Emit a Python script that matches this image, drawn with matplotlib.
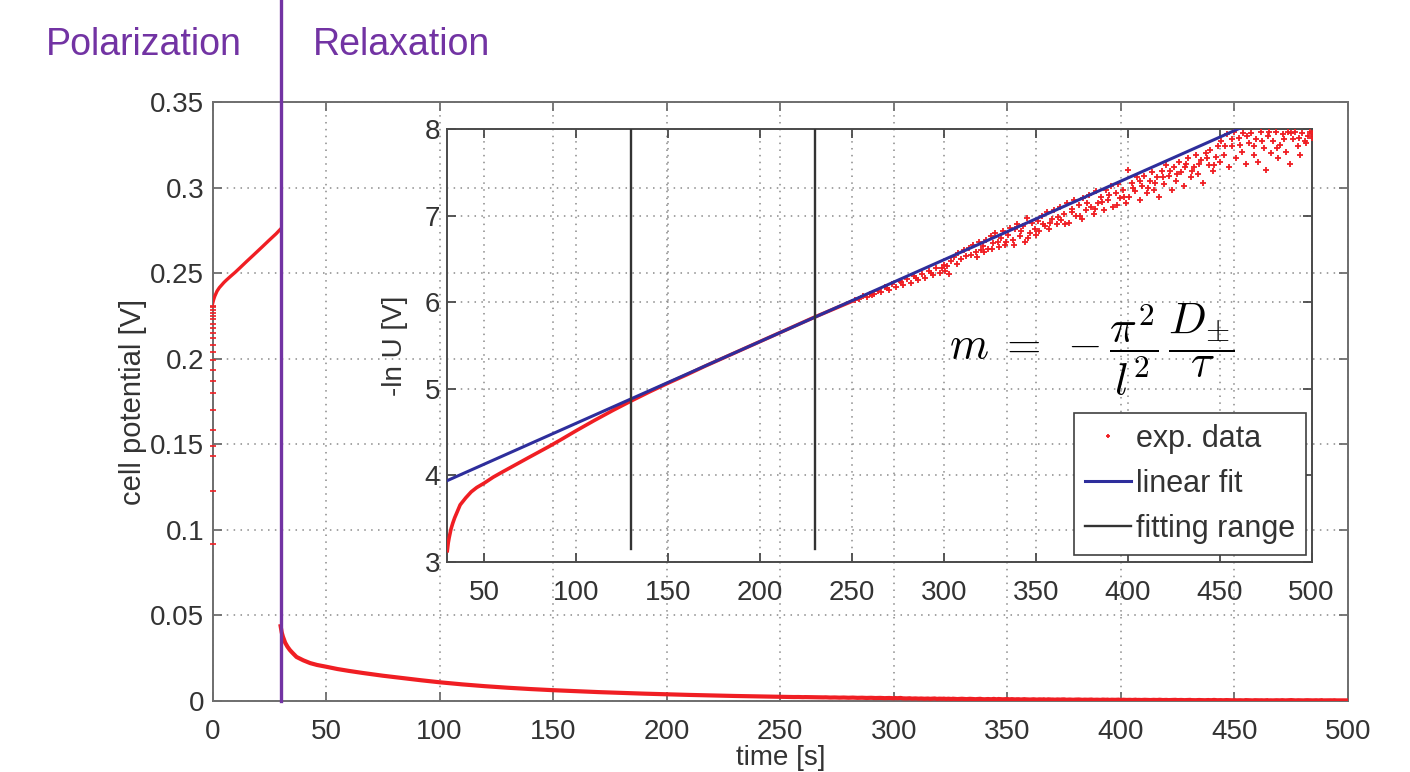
import numpy as np
import matplotlib
matplotlib.use('Agg')
import matplotlib.pyplot as plt
from matplotlib.ticker import FixedLocator, FixedFormatter

plt.rcParams['font.family'] = ['Liberation Sans', 'DejaVu Sans']
plt.rcParams['mathtext.fontset'] = 'cm'

# ---------------- data ----------------
switch_t = 30

pol_t = [0, 0.5, 1, 2, 3, 4, 5, 6, 8, 10, 12, 15, 18, 20, 22, 25, 28, 30]
pol_u = [0.232, 0.2345, 0.2365, 0.2395, 0.2415, 0.243, 0.2445, 0.2458, 0.2482,
         0.2505, 0.253, 0.2568, 0.2605, 0.263, 0.2655, 0.2693, 0.273, 0.2758]

ramp_u = [0.092, 0.1225, 0.143, 0.149, 0.1585, 0.170, 0.180, 0.187, 0.1936,
          0.199, 0.204, 0.208, 0.212, 0.215, 0.218, 0.2205, 0.223, 0.225,
          0.227, 0.2285, 0.23, 0.231]

# -ln U, smooth part of the relaxation
smooth_t = [30, 30.5, 31, 32, 33, 34, 35, 37, 40, 43, 46, 50, 55, 60, 66, 75,
            85, 92, 100, 110, 120, 130, 140, 150, 160, 170, 180, 190, 200,
            210, 220, 230, 240, 250]
smooth_v = [3.13, 3.22, 3.28, 3.38, 3.45, 3.51, 3.56, 3.66, 3.74, 3.81, 3.86,
            3.91, 3.98, 4.04, 4.11, 4.215, 4.33, 4.415, 4.515, 4.635, 4.75,
            4.86, 4.965, 5.065, 5.16, 5.26, 5.355, 5.45, 5.545, 5.64, 5.735,
            5.83, 5.92, 6.01]

# -ln U, noisy part of the relaxation
scatter_t = [252, 254, 256, 258, 260, 262, 264, 266, 268, 270, 272, 274, 276,
             278, 280, 282, 284, 286, 288, 290, 292, 294, 296, 298, 300,
             300.5, 301.5, 303, 304, 305.5, 307, 308, 309.5, 311, 312,
             313.5, 315, 316, 317.5, 319, 320, 321.5, 323, 324, 325.5,
             327, 328, 329.5, 331, 332, 333.5, 335, 336, 337.5, 339,
             340, 341.5, 343, 344, 345.5, 347, 348, 349.5,
             351, 352, 353.5, 355, 356, 357.5, 359, 360, 361.5, 363,
             364, 365.5, 367, 368, 369.5, 371, 372, 373.5, 375, 376,
             377.5, 379, 380, 381.5, 383, 384, 385.5, 387, 388, 389.5,
             391, 392, 393.5, 395, 396, 397.5, 399, 400,
             401, 402.5, 404, 405, 406.5, 408, 409, 410.5, 412, 413,
             414.5, 416, 417, 418.5, 420, 421, 422.5, 424, 425, 426.5,
             428, 429, 430.5, 432, 433, 434.5, 436, 437, 438.5, 440,
             441, 442.5, 444, 445, 446.5, 448, 449, 450,
             451, 452.5, 454, 455, 456.5, 458, 459, 460.5, 462, 463,
             464.5, 466, 467, 468.5, 470, 471, 472.5, 474, 475, 476.5,
             478, 479, 480.5, 482, 483, 484.5, 486, 487, 488.5, 490,
             491, 492.5, 494, 495, 496.5, 498, 499, 500,
             261, 269, 277, 285, 293, 299,
             318, 322, 326, 330, 334, 338, 342, 346, 350,
             354, 358, 362, 366, 370, 374, 378, 382, 386, 390, 394, 398,
             403, 407, 411, 415, 419, 423, 427, 431, 435, 439, 443, 447,
             453, 457, 461, 465, 469, 473, 477, 481, 485, 489, 493, 497, 500]
scatter_v = [6.03, 6.04, 6.07, 6.06, 6.10, 6.09, 6.13, 6.12, 6.17, 6.14, 6.21,
             6.18, 6.24, 6.20, 6.27, 6.22, 6.30, 6.26, 6.33, 6.28, 6.36, 6.31,
             6.40, 6.34, 6.43,
             6.36, 6.42, 6.33, 6.47, 6.52, 6.44, 6.57, 6.50, 6.60, 6.53,
             6.63, 6.55, 6.66, 6.58, 6.70, 6.60, 6.65, 6.72, 6.62, 6.76,
             6.68, 6.80, 6.70, 6.74, 6.82, 6.66, 6.78, 6.86, 6.72, 6.84,
             6.90, 6.76, 6.88, 6.70, 6.97, 6.80, 6.92, 6.85,
             6.94, 6.82, 7.00, 6.88, 7.04, 6.84, 6.96, 7.07, 6.90, 7.10,
             6.95, 7.02, 7.14, 6.92, 7.08, 7.18, 7.00, 7.12, 6.96, 7.20,
             7.06, 7.24, 7.10, 7.02, 7.28, 7.14, 7.22, 7.06, 7.30, 7.18,
             7.34, 7.10, 7.26, 7.36, 7.20, 7.30, 7.14, 7.53,
             7.22, 7.38, 7.28, 7.44, 7.18, 7.34, 7.46, 7.26, 7.40, 7.50,
             7.30, 7.44, 7.22, 7.52, 7.36, 7.58, 7.46, 7.30, 7.56, 7.40,
             7.62, 7.50, 7.34, 7.60, 7.66, 7.44, 7.56, 7.70, 7.48, 7.64,
             7.38, 7.72, 7.58, 7.76, 7.52, 7.68, 7.80, 7.62,
             7.86, 7.70, 7.94, 7.56, 7.80, 7.96, 7.66, 7.90, 7.74, 7.95,
             7.60, 7.84, 7.95, 7.70, 7.88, 7.62, 7.96, 7.78, 7.53, 7.92,
             7.72, 7.86, 7.96, 7.66, 7.82, 7.94, 7.74, 7.96, 7.60, 7.88,
             7.97, 7.80, 7.70, 7.95, 7.86, 7.92, 7.96, 7.90,
             6.08, 6.16, 6.23, 6.28, 6.34, 6.40,
             6.52, 6.58, 6.62, 6.64, 6.70, 6.66, 6.82, 6.74, 6.78,
             6.90, 6.92, 6.98, 6.90, 7.04, 7.00, 7.14, 7.08, 7.16, 7.24, 7.12, 7.22,
             7.32, 7.40, 7.32, 7.38, 7.44, 7.52, 7.48, 7.56, 7.52, 7.60, 7.66, 7.58,
             7.80, 7.88, 7.82, 7.92, 7.80, 7.86, 7.96, 7.78, 7.88, 7.95, 7.90, 7.84, 7.95]

fit_slope = 0.00944
fit_intercept = 3.657
fit_span = [30, 500]
fit_range = [130, 230]

main_xticks = [0, 50, 100, 150, 200, 250, 300, 350, 400, 450, 500]
main_yticks = [0, 0.05, 0.1, 0.15, 0.2, 0.25, 0.3, 0.35]
main_ylabels = ['0', '0.05', '0.1', '0.15', '0.2', '0.25', '0.3', '0.35']
inset_xticks = [50, 100, 150, 200, 250, 300, 350, 400, 450, 500]
inset_yticks = [3, 4, 5, 6, 7, 8]

# ---------------- style ----------------
W, H = 1410, 772
purple = '#7233A3'
red = '#F01E23'
blue = '#2E2E9C'
dark = '#333333'
grid_kw = dict(color='#8a8a8a', linestyle=(0, (1, 3.5)), linewidth=1.1)

fig = plt.figure(figsize=(W / 100, H / 100), dpi=100, facecolor='white')

def px_axes(l, r, t, b):
    return fig.add_axes([l / W, 1 - b / H, (r - l) / W, (b - t) / H])

def style(ax, spine_col):
    for s in ax.spines.values():
        s.set_color(spine_col)
        s.set_linewidth(1.4)
    ax.tick_params(direction='in', length=6.5, width=1.3, colors=spine_col,
                   top=True, right=True, labelsize=20, labelcolor=dark)
    ax.set_facecolor('none')
    ax.grid(True, **grid_kw)
    ax.set_axisbelow(True)

# ---------------- main axes ----------------
ax = px_axes(212.5, 1348, 102, 701)
style(ax, '#6e6e6e')
ax.tick_params(axis='x', pad=13)
ax.tick_params(axis='y', pad=6)
ax.set_xlim(0, 500)
ax.set_ylim(0, 0.35)
ax.xaxis.set_major_locator(FixedLocator(main_xticks))
ax.yaxis.set_major_locator(FixedLocator(main_yticks))
ax.yaxis.set_major_formatter(FixedFormatter(main_ylabels))

rel_t = np.array(smooth_t + scatter_t)
rel_v = np.array(smooth_v + scatter_v)
order = np.argsort(rel_t, kind='stable')
rel_t = rel_t[order]
rel_u = np.exp(-rel_v[order])
ax.plot(pol_t, pol_u, color=red, lw=2.4, zorder=3)
ax.plot(np.zeros(len(ramp_u)), ramp_u, linestyle='none', marker='_',
        ms=4, mew=1.2, color=red, zorder=3, clip_on=False)
ax.plot(rel_t, rel_u, color=red, lw=3.0, zorder=3)
ax.axvline(switch_t, ymin=0, ymax=1.25, clip_on=False, color=purple,
           lw=2.4, zorder=5)

ax.set_ylabel('cell potential [V]', fontsize=21, color=dark)
ax.yaxis.set_label_coords(-0.058, 0.5)
ax.set_xlabel('time [s]', fontsize=20, color=dark, va='bottom')
ax.xaxis.set_label_coords(0.5, -(771 - 701) / 599)

fig.text(143.5 / W, 1 - 55 / H, 'Polarization', color=purple, fontsize=27,
         ha='center', va='baseline')
fig.text(313 / W, 1 - 55 / H, 'Relaxation', color=purple, fontsize=27,
         ha='left', va='baseline')

# ---------------- inset ----------------
ax2 = px_axes(447.3, 1311.5, 129, 562)
style(ax2, '#4a4a4a')
ax2.tick_params(axis='x', pad=13)
ax2.tick_params(axis='y', pad=5)
ax2.set_xlim(30, 500)
ax2.set_ylim(3, 8)
ax2.xaxis.set_major_locator(FixedLocator(inset_xticks))
ax2.yaxis.set_major_locator(FixedLocator(inset_yticks))

ax2.plot(smooth_t, smooth_v, color=red, lw=2.6, zorder=3)
h_data, = ax2.plot(scatter_t, scatter_v, linestyle='none', marker='+', ms=4.5,
                   mew=1.3, color=red, zorder=3, label='exp. data')
fit_x = np.array(fit_span)
h_fit, = ax2.plot(fit_x, fit_intercept + fit_slope * fit_x, color=blue,
                  lw=2.2, zorder=4, label='linear fit')
h_rng = None
for xr in fit_range:
    h_rng = ax2.axvline(xr, ymin=0.03, ymax=1, color='#333333', lw=1.7,
                        zorder=4, label='fitting range')

ax2.set_ylabel('-ln U [V]', fontsize=20, color=dark)
ax2.yaxis.set_label_coords(-0.045, 0.5)

leg = ax2.legend(handles=[h_data, h_fit, h_rng], loc='lower right',
                 bbox_to_anchor=(0.9935, 0.016), borderaxespad=0,
                 fontsize=22, frameon=True, fancybox=False, framealpha=1,
                 edgecolor='#404040', handlelength=1.5, handletextpad=0.15,
                 labelspacing=0.5, borderpad=0.36, numpoints=1,
                 markerscale=0.6)
leg.get_frame().set_linewidth(1.2)
for t in leg.get_texts():
    t.set_color(dark)
leg.set_zorder(10)

fig.text(1092 / W, 1 - 350 / H,
         r'$m\;=\;-\dfrac{\pi^2}{l^2}\,\dfrac{D_{\pm}}{\tau}$',
         fontsize=32, ha='center', va='center', color='black')

fig.savefig('out.png', dpi=100, facecolor='white')
